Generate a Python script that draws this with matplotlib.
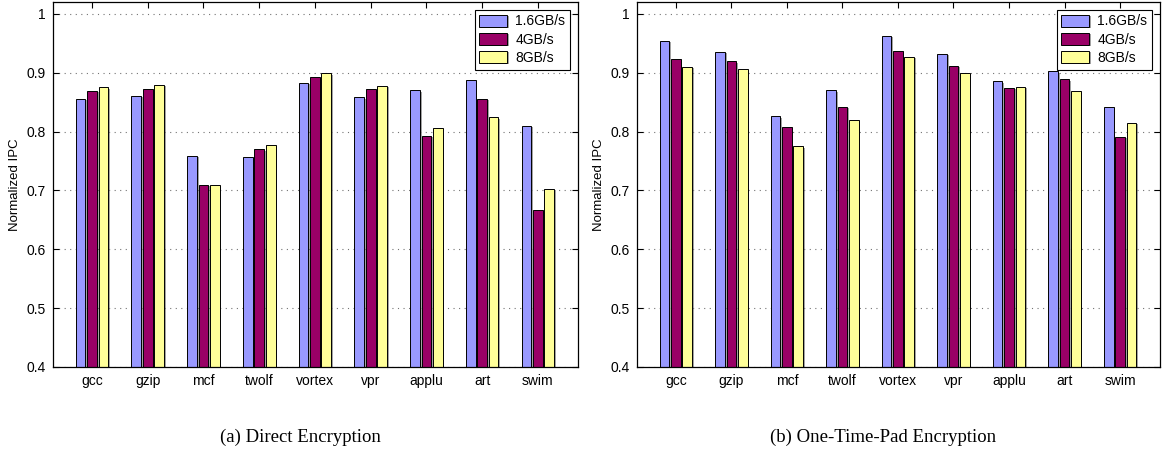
import numpy as np
import matplotlib
matplotlib.use("Agg")
import matplotlib.pyplot as plt
from matplotlib import patheffects as pe

benchmarks = ["gcc", "gzip", "mcf", "twolf", "vortex", "vpr", "applu", "art", "swim"]
series_labels = ["1.6GB/s", "4GB/s", "8GB/s"]

direct_16 = [0.856, 0.861, 0.759, 0.757, 0.883, 0.858, 0.870, 0.888, 0.810]
direct_4 = [0.869, 0.872, 0.710, 0.770, 0.893, 0.873, 0.793, 0.856, 0.667]
direct_8 = [0.875, 0.879, 0.710, 0.777, 0.899, 0.878, 0.806, 0.824, 0.703]

otp_16 = [0.954, 0.935, 0.826, 0.870, 0.963, 0.932, 0.885, 0.902, 0.842]
otp_4 = [0.924, 0.919, 0.807, 0.842, 0.936, 0.912, 0.874, 0.889, 0.791]
otp_8 = [0.910, 0.906, 0.775, 0.819, 0.927, 0.900, 0.876, 0.868, 0.815]

yticks = [0.4, 0.5, 0.6, 0.7, 0.8, 0.9, 1.0]
ytick_labels = ["0.4", "0.5", "0.6", "0.7", "0.8", "0.9", "1"]
captions = ["(a) Direct Encryption", "(b) One-Time-Pad Encryption"]

colors = ["#9999FF", "#990066", "#FFFF99"]

plt.rcParams['font.family'] = ['Liberation Sans', 'DejaVu Sans']

fig = plt.figure(figsize=(11.62, 4.57), dpi=100)
W, H = 1162, 457
axes_px = [(53, 578), (637, 1160)]
top_px, bot_px = 2, 367

panels = [(direct_16, direct_4, direct_8), (otp_16, otp_4, otp_8)]
x = np.arange(1, len(benchmarks) + 1)
pitch = 0.205
bw = 0.175

for (xl, xr), data, cap in zip(axes_px, panels, captions):
    ax = fig.add_axes([xl / W, 1 - bot_px / H, (xr - xl) / W, (bot_px - top_px) / H])
    for i, (vals, c, lab) in enumerate(zip(data, colors, series_labels)):
        bars = ax.bar(x + (i - 1) * pitch, np.array(vals) - 0.4, bottom=0.4, width=bw,
                      color=c, edgecolor="black", linewidth=0.7, label=lab, zorder=3)
        for b in bars:
            b.set_path_effects([pe.SimplePatchShadow(offset=(1.2, -1.0), shadow_rgbFace="0.4", alpha=0.6),
                                pe.Normal()])
    ax.set_xlim(0.3, 9.72)
    ax.set_ylim(0.4, 1.02)
    ax.set_xticks(x)
    ax.set_xticklabels(benchmarks, fontsize=10)
    ax.set_yticks(yticks)
    ax.set_yticklabels(ytick_labels, fontsize=10)
    ax.tick_params(direction="in", top=True, right=True, length=4, width=0.8, pad=5)
    ax.yaxis.grid(True, linestyle=(0, (1, 4)), color="0.45", linewidth=0.8, zorder=0)
    ax.set_axisbelow(True)
    for s in ax.spines.values():
        s.set_linewidth(0.9)
        s.set_zorder(4)
    ax.set_ylabel("Normalized IPC", fontsize=9.5, labelpad=4)
    leg = ax.legend(loc="upper right", fontsize=10, frameon=True, fancybox=False,
                    edgecolor="black", framealpha=1, borderaxespad=0.55,
                    handlelength=2.0, handleheight=0.95, labelspacing=0.3,
                    borderpad=0.35, handletextpad=0.6)
    leg.get_frame().set_linewidth(0.8)
    fig.text((xl - 30 + xr) / 2 / W, 1 - 437 / H, cap, ha="center", va="center",
             fontsize=13.5, family=["Liberation Serif", "DejaVu Serif"])

fig.savefig("out.png", dpi=100)
